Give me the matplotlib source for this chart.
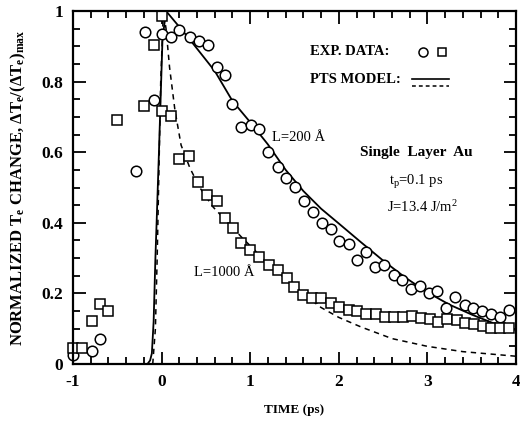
import matplotlib
matplotlib.use("Agg")
import matplotlib.pyplot as plt
from matplotlib.ticker import FixedLocator, FixedFormatter, MultipleLocator

plt.rcParams['font.family'] = ['Liberation Serif', 'DejaVu Serif']
plt.rcParams['mathtext.default'] = 'regular'

# ---- data: L=200 A experiment (circles)
circ_t = [-1.00, -0.79, -0.70, -0.29, -0.19, -0.09, 0.00, 0.11, 0.20, 0.32, 0.42, 0.52,
          0.62, 0.71, 0.80, 0.90, 1.01, 1.10, 1.20, 1.31, 1.40, 1.50, 1.61, 1.71, 1.81,
          1.91, 2.00, 2.11, 2.21, 2.31, 2.41, 2.51, 2.62, 2.71, 2.82, 2.92, 3.02, 3.11,
          3.21, 3.31, 3.42, 3.52, 3.62, 3.72, 3.82, 3.92]
circ_v = [0.025, 0.036, 0.072, 0.546, 0.940, 0.748, 0.935, 0.925, 0.945, 0.927, 0.915, 0.903,
          0.840, 0.820, 0.737, 0.672, 0.677, 0.666, 0.600, 0.557, 0.527, 0.501, 0.462, 0.431, 0.400,
          0.382, 0.348, 0.341, 0.294, 0.316, 0.274, 0.280, 0.252, 0.238, 0.212, 0.221, 0.202, 0.208,
          0.160, 0.190, 0.168, 0.160, 0.151, 0.142, 0.134, 0.153]

# ---- data: L=1000 A experiment (squares)
sq_t = [-1.00, -0.90, -0.79, -0.70, -0.60, -0.50, -0.20, -0.09, 0.00, 0.01, 0.11, 0.20,
        0.31, 0.41, 0.51, 0.62, 0.71, 0.81, 0.90, 1.00, 1.10, 1.21, 1.31, 1.41, 1.49,
        1.60, 1.70, 1.80, 1.91, 2.00, 2.11, 2.21, 2.31, 2.42, 2.52, 2.62, 2.72, 2.83,
        2.93, 3.03, 3.12, 3.22, 3.33, 3.43, 3.53, 3.63, 3.72, 3.82, 3.92]
sq_v = [0.045, 0.045, 0.123, 0.171, 0.151, 0.690, 0.730, 0.905, 0.985, 0.716, 0.703, 0.582,
        0.588, 0.516, 0.480, 0.462, 0.415, 0.386, 0.343, 0.322, 0.303, 0.280, 0.266, 0.245, 0.219,
        0.196, 0.188, 0.188, 0.173, 0.162, 0.154, 0.151, 0.142, 0.142, 0.134, 0.134, 0.134, 0.135,
        0.129, 0.128, 0.120, 0.128, 0.126, 0.117, 0.112, 0.107, 0.103, 0.103, 0.103]

# ---- PTS model, L=200 A (solid)
sol_t = [-0.20, -0.16, -0.13, -0.11, -0.09, -0.07, -0.055, -0.03, -0.01, 0.01, 0.05,
         0.30, 0.60, 0.80, 1.00, 1.20, 1.40, 1.60, 1.80, 2.00, 2.25, 2.50, 2.75, 3.00,
         3.25, 3.50, 3.75, 4.00]
sol_v = [0.0, 0.0, 0.01, 0.03, 0.12, 0.30, 0.41, 0.60, 0.76, 0.92, 1.0,
         0.925, 0.830, 0.745, 0.685, 0.622, 0.550, 0.490, 0.440, 0.398, 0.345, 0.293, 0.245, 0.203,
         0.168, 0.140, 0.115, 0.096]

# ---- PTS model, L=1000 A (dashed)
dsh_t = [-0.10, -0.07, -0.05, -0.03, -0.01, 0.02, 0.05, 0.09, 0.15, 0.22, 0.32, 0.43,
         0.58, 0.75, 0.90, 1.00, 1.20, 1.40, 1.60, 1.80, 2.00, 2.25, 2.60, 3.00, 3.40, 4.00]
dsh_v = [0.0, 0.10, 0.30, 0.55, 0.80, 1.0, 0.95, 0.84, 0.72, 0.62, 0.555, 0.50,
         0.445, 0.40, 0.36, 0.335, 0.285, 0.24, 0.198, 0.16, 0.132, 0.105, 0.072, 0.050, 0.035, 0.022]

xticks = [-1, 0, 1, 2, 3, 4]
xtick_labels = ['-1', '0', '1', '2', '3', '4']
yticks = [0, 0.2, 0.4, 0.6, 0.8, 1.0]
ytick_labels = ['0', '0.2', '0.4', '0.6', '0.8', '1']

fig = plt.figure(figsize=(5.2, 4.33), dpi=100)
ax = fig.add_axes([73/520, 1-364/433, 443/520, 353/433])

ax.plot(sol_t, sol_v, '-', color='black', lw=1.3)
ax.plot(dsh_t, dsh_v, color='black', lw=1.1, linestyle=(0, (3.5, 3)))
ax.plot(circ_t, circ_v, 'o', ms=7.6, mfc='white', mec='black', mew=1.1, clip_on=False)
ax.plot(sq_t, sq_v, 's', ms=6.5, mfc='white', mec='black', mew=1.1, clip_on=False)

ax.set_xlim(-1, 4)
ax.set_ylim(0, 1)
ax.xaxis.set_major_locator(FixedLocator(xticks))
ax.xaxis.set_major_formatter(FixedFormatter(xtick_labels))
ax.yaxis.set_major_locator(FixedLocator(yticks))
ax.yaxis.set_major_formatter(FixedFormatter(ytick_labels))
ax.xaxis.set_minor_locator(MultipleLocator(0.2))
ax.yaxis.set_minor_locator(MultipleLocator(0.05))
ax.tick_params(which='both', direction='in', top=True, right=True, width=1.3)
ax.tick_params(which='major', length=9, labelsize=12.5, pad=7)
ax.tick_params(which='minor', length=5)
for lab in ax.get_xticklabels() + ax.get_yticklabels():
    lab.set_fontweight('bold')
for s in ax.spines.values():
    s.set_linewidth(1.6)

ax.set_xlabel('TIME (ps)', fontsize=9.5, fontweight='bold', labelpad=10)
ax.set_ylabel('NORMALIZED T$_e$ CHANGE, $\\Delta$T$_e$/($\\Delta$T$_e$)$_{max}$',
              fontsize=12, fontweight='bold', labelpad=10)

# legend-like annotation
ax.text(1.67, 0.884, 'EXP. DATA:', fontsize=10.5, fontweight='bold', ha='left', va='center')
ax.plot([2.95], [0.884], 'o', ms=6.5, mfc='white', mec='black', mew=1.1)
ax.plot([3.17], [0.884], 's', ms=5.8, mfc='white', mec='black', mew=1.1)
ax.text(1.67, 0.805, 'PTS MODEL:', fontsize=10.5, fontweight='bold', ha='left', va='center')
ax.plot([2.83, 3.24], [0.808, 0.808], '-', color='black', lw=1.2)
ax.plot([2.83, 3.24], [0.787, 0.787], color='black', lw=1.1, linestyle=(0, (2.5, 2)))

ax.text(1.25, 0.643, 'L=200 Å', fontsize=10.5, ha='left', va='center')
ax.text(0.37, 0.258, 'L=1000 Å', fontsize=10.5, ha='left', va='center')
ax.text(2.87, 0.60, 'Single  Layer  Au', fontsize=11, fontweight='bold', ha='center', va='center')
ax.text(2.87, 0.516, 't$_p$=0.1 ps', fontsize=10.5, ha='center', va='center')
ax.text(2.95, 0.445, 'J=13.4 J/m$^2$', fontsize=10.5, ha='center', va='center')

fig.savefig('out.png', dpi=100)
